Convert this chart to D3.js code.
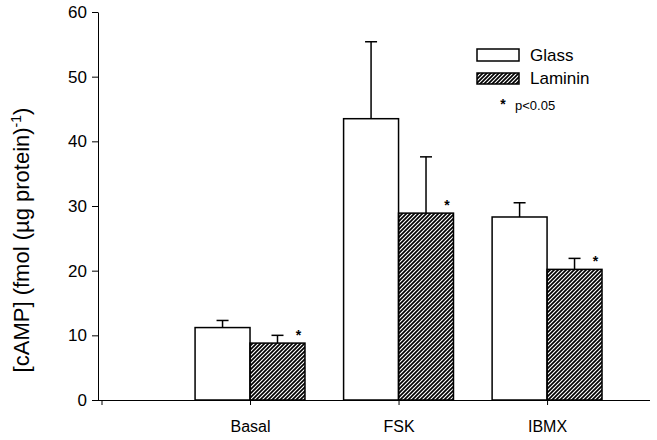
<!DOCTYPE html>
<html>
<head>
<meta charset="utf-8">
<script src="https://cdn.jsdelivr.net/npm/d3@7"></script>
<style>
  body { margin: 0; background: #fff; }
  svg { display: block; font-family: Arial, "Liberation Sans", sans-serif; }
</style>
</head>
<body>
<svg id="chart" width="657" height="440"></svg>
<script>
// values
var categories = ["Basal", "FSK", "IBMX"];
var glass = [11.2, 43.5, 28.3];
var glassErr = [1.1, 11.9, 2.2];
var laminin = [8.8, 28.9, 20.2];
var lamininErr = [1.2, 8.7, 1.7];
var significant = [true, true, true];
var yTicks = [0, 10, 20, 30, 40, 50, 60];

var svg = d3.select("#chart");

// categories sit at 1,2,3 on a linear x
var x = d3.scaleLinear().domain([0, 3.72]).range([101.5, 654]);
var y = d3.scaleLinear().domain([0, 60]).range([400, 12]);
var barW = 0.37;

// hatch for laminin
var defs = svg.append("defs");
defs.append("pattern")
    .attr("id", "hatch")
    .attr("patternUnits", "userSpaceOnUse")
    .attr("width", 4).attr("height", 4)
  .append("path")
    .attr("d", "M-1,1 l2,-2 M0,4 l4,-4 M3,5 l2,-2")
    .attr("stroke", "#000")
    .attr("stroke-width", 1.7);

// axes
var yAxis = svg.append("g")
    .attr("transform", "translate(98,0)")
    .call(d3.axisLeft(y).tickValues(yTicks).tickSize(6).tickSizeOuter(0).tickPadding(5));
yAxis.selectAll("text").style("font-size", "17px").attr("fill", "#000");

var xAxis = svg.append("g")
    .attr("transform", "translate(0," + y(0) + ")")
    .call(d3.axisBottom(x).tickValues([0, 1, 2, 3]).tickSize(5).tickSizeOuter(0).tickPadding(16)
        .tickFormat(function (d) { return d === 0 ? "" : categories[d - 1]; }));
xAxis.select(".domain").attr("d", "M98,0.5H650");
xAxis.selectAll("text").style("font-size", "16px").attr("fill", "#000");

svg.selectAll(".domain, .tick line").attr("stroke", "#000");

// bars
var groups = categories.map(function (c, i) { return i + 1; });

svg.selectAll(".glass")
    .data(glass)
    .enter().append("rect")
    .attr("class", "glass")
    .attr("x", function (d, i) { return x(groups[i] - barW); })
    .attr("y", function (d) { return y(d); })
    .attr("width", function (d, i) { return x(groups[i]) - x(groups[i] - barW); })
    .attr("height", function (d) { return y(0) - y(d); })
    .attr("fill", "#fff")
    .attr("stroke", "#000")
    .attr("stroke-width", 1.5);

svg.selectAll(".laminin")
    .data(laminin)
    .enter().append("rect")
    .attr("class", "laminin")
    .attr("x", function (d, i) { return x(groups[i]); })
    .attr("y", function (d) { return y(d); })
    .attr("width", function (d, i) { return x(groups[i] + barW) - x(groups[i]); })
    .attr("height", function (d) { return y(0) - y(d); })
    .attr("fill", "url(#hatch)")
    .attr("stroke", "#000")
    .attr("stroke-width", 1.5);

// error bars (upper only)
function errorBars(vals, errs, offset, cls) {
    var g = svg.selectAll("." + cls)
        .data(vals)
        .enter().append("g")
        .attr("class", cls);
    g.append("line")
        .attr("x1", function (d, i) { return x(groups[i] + offset); })
        .attr("x2", function (d, i) { return x(groups[i] + offset); })
        .attr("y1", function (d) { return y(d); })
        .attr("y2", function (d, i) { return y(d + errs[i]); })
        .attr("stroke", "#000").attr("stroke-width", 1.5);
    g.append("line")
        .attr("x1", function (d, i) { return x(groups[i] + offset) - 6; })
        .attr("x2", function (d, i) { return x(groups[i] + offset) + 6; })
        .attr("y1", function (d, i) { return y(d + errs[i]); })
        .attr("y2", function (d, i) { return y(d + errs[i]); })
        .attr("stroke", "#000").attr("stroke-width", 1.5);
}
errorBars(glass, glassErr, -barW / 2, "errG");
errorBars(laminin, lamininErr, barW / 2, "errL");

// significance stars
svg.selectAll(".star")
    .data(laminin)
    .enter().append("text")
    .filter(function (d, i) { return significant[i]; })
    .attr("class", "star")
    .attr("x", function (d, i) { return x(groups[i] + barW / 2) + 21; })
    .attr("y", function (d) { return y(d) - 3; })
    .attr("text-anchor", "middle")
    .style("font-size", "14px")
    .style("font-weight", "bold")
    .text("*");

// y label
var yl = svg.append("text")
    .attr("transform", "translate(29,240) rotate(-90)")
    .attr("text-anchor", "middle")
    .style("font-size", "22px");
yl.append("tspan").text("[cAMP] (fmol (\u00b5g protein)");
yl.append("tspan").attr("dy", "-0.6em").style("font-size", "14px").text("-1");
yl.append("tspan").attr("dy", "0.38em").text(")");

// legend
var legend = svg.append("g");
legend.append("rect").attr("x", 477).attr("y", 49).attr("width", 42).attr("height", 12)
    .attr("fill", "#fff").attr("stroke", "#000").attr("stroke-width", 1.5);
legend.append("rect").attr("x", 477).attr("y", 73).attr("width", 42).attr("height", 11)
    .attr("fill", "url(#hatch)").attr("stroke", "#000").attr("stroke-width", 1.5);
legend.append("text").attr("x", 530).attr("y", 61).style("font-size", "17px").text("Glass");
legend.append("text").attr("x", 530).attr("y", 84).style("font-size", "17px").text("Laminin");
legend.append("text").attr("x", 503).attr("y", 109).attr("text-anchor", "middle")
    .style("font-size", "14px").style("font-weight", "bold").text("*");
legend.append("text").attr("x", 515).attr("y", 110).style("font-size", "13px").text("p<0.05");
</script>
</body>
</html>
